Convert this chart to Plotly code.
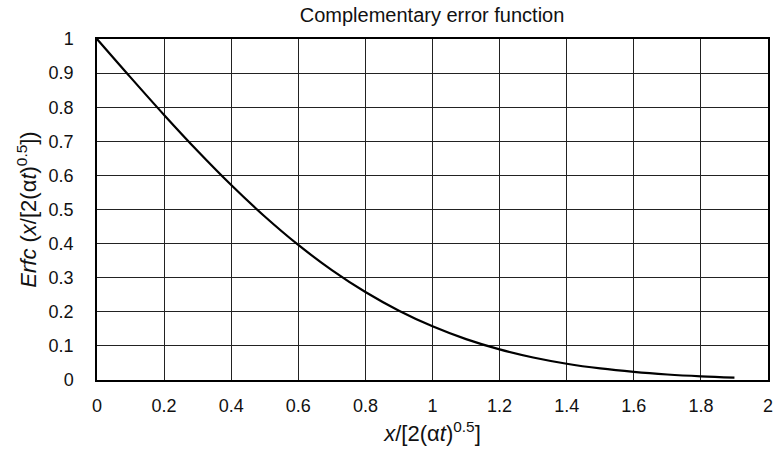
import plotly.graph_objects as go

x_vals = [0.0, 0.1, 0.2, 0.3, 0.4, 0.5, 0.6, 0.7, 0.8, 0.9, 1.0,
          1.1, 1.2, 1.3, 1.4, 1.5, 1.6, 1.7, 1.8, 1.9]
erfc_vals = [1.0, 0.8875, 0.7773, 0.6714, 0.5716, 0.4795, 0.3961, 0.3222,
             0.2579, 0.2031, 0.1573, 0.1198, 0.0897, 0.0660, 0.0477,
             0.0339, 0.0237, 0.0162, 0.0109, 0.0072]
x_ticks = [0, 0.2, 0.4, 0.6, 0.8, 1, 1.2, 1.4, 1.6, 1.8, 2]
x_tick_text = ["0", "0.2", "0.4", "0.6", "0.8", "1", "1.2", "1.4", "1.6", "1.8", "2"]
y_ticks = [0, 0.1, 0.2, 0.3, 0.4, 0.5, 0.6, 0.7, 0.8, 0.9, 1]
y_tick_text = ["0", "0.1", "0.2", "0.3", "0.4", "0.5", "0.6", "0.7", "0.8", "0.9", "1"]

fig = go.Figure()
fig.add_trace(go.Scatter(x=x_vals, y=erfc_vals, mode="lines",
                         line=dict(color="black", width=2.2, shape="spline"),
                         showlegend=False))

font = dict(family="Liberation Sans, Arial, sans-serif", size=18, color="#111111")
fig.update_layout(
    width=782, height=455,
    margin=dict(l=97, r=14, t=39, b=75),
    paper_bgcolor="white", plot_bgcolor="white",
    font=font,
    title=dict(text="Complementary error function", x=0.5525, xanchor="center",
               y=0.967, yanchor="middle", font=dict(size=20)),
)
fig.update_xaxes(range=[0, 2], tickvals=x_ticks, ticktext=x_tick_text,
                 showgrid=True, gridcolor="#222222", gridwidth=1,
                 showline=True, linecolor="black", linewidth=1.5, mirror=True,
                 zeroline=False, ticks="", ticklabelstandoff=9, automargin=False,
                 title=dict(text="<i>x</i>/[2(α<i>t</i>)<sup>0.5</sup>]", standoff=10))
fig.update_yaxes(range=[0, 1], tickvals=y_ticks, ticktext=y_tick_text,
                 showgrid=True, gridcolor="#222222", gridwidth=1,
                 showline=True, linecolor="black", linewidth=1.5, mirror=True,
                 zeroline=False, ticks="", ticklabelstandoff=18, automargin=False,
                 title=dict(text="<i>Erfc</i> (<i>x</i>/[2(α<i>t</i>)<sup>0.5</sup>])", standoff=6))

fig.write_html("out.html")
